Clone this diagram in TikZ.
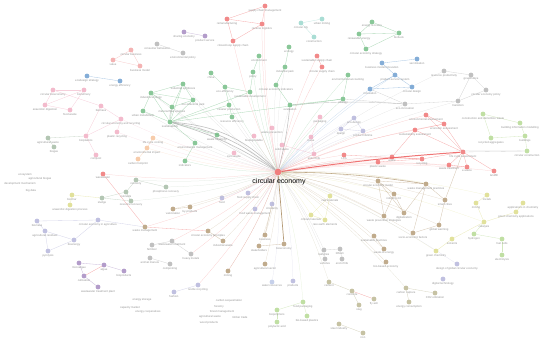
\documentclass[tikz,border=0pt]{standalone}
\usepackage{fontspec}
\setmainfont{Liberation Sans}
\usetikzlibrary{backgrounds}
\definecolor{nred}{RGB}{236,92,92}
\definecolor{ngreen}{RGB}{92,178,112}
\definecolor{nblue}{RGB}{84,142,200}
\definecolor{ngray}{RGB}{168,168,168}
\definecolor{npink}{RGB}{238,160,184}
\definecolor{nsalmon}{RGB}{240,150,150}
\definecolor{npurple}{RGB}{150,118,182}
\definecolor{nlav}{RGB}{168,168,212}
\definecolor{nteal}{RGB}{136,208,196}
\definecolor{norange}{RGB}{244,184,138}
\definecolor{nbrown}{RGB}{168,138,96}
\definecolor{nyellow}{RGB}{214,214,116}
\definecolor{nlgreen}{RGB}{168,210,128}
\definecolor{nkhaki}{RGB}{176,170,128}
\definecolor{ngrgreen}{RGB}{150,176,150}
\definecolor{nlblue}{RGB}{176,190,226}
\tikzset{
  kw/.style={circle,fill=#1,fill opacity=0.72,inner sep=0pt,minimum size=0.24cm},
  lbl/.style={text=black!42,font=\fontsize{4}{4.5}\selectfont,inner sep=0.5pt},
  spoke/.style={draw=#1,opacity=0.3,line width=0.35pt},
  link/.style={draw=#1,opacity=0.5,line width=0.45pt}
}
% keywords: name/x/y/colour/label (pixel coordinates)
\def\kwlist{r1/265/6/nred/supply chain management,r2/227/19/nred/remanufacturing,
r3/262/24/nred/reverse logistics,r4/233/41/nred/closed-loop supply chain,
p1/184/32/npurple/sharing economy,p2/205/36/npurple/product service,
g1/157/44/ngray/consumer behaviour,g2/183/53/ngray/environmental policy,
s1/131/50/nsalmon/circular business,s2/113/60/nsalmon/value,s3/140/66/nsalmon/business model,
b1/87/76/nblue/ecodesign strategy,b2/120/81/nblue/energy efficiency,
k1/53/90/npink/circular bioeconomy,k2/84/90/npink/biorefinery,k3/45/105/npink/anaerobic digestion,k4/70/110/npink/food waste,
e1/151/93/ngreen/industrial ecology,e2/183/84/ngreen/industrial symbiosis,e3/193/100/ngreen/eco-industrial park,
e4/172/107/ngreen/material flow analysis,e5/170/122/ngreen/sustainability,e6/143/111/ngreen/urban metabolism,
e7/211/73/ngreen/china,e8/225/87/ngreen/eco-efficiency,e9/250/92/ngreen/sustainable development,
e10/229/105/ngreen/cleaner production,e11/232/117/ngreen/resource efficiency,e12/259/56/ngreen/environment,e13/253/72/ngreen/policy,
k5/101/106/npink/biomass,k6/121/119/npink/circular economy and recycling,k7/117/132/npink/plastic recycling,k8/86/136/npink/bioplastics,
a1/48/138/ngrgreen/agricultural waste,a2/54/147/ngrgreen/biogas,
o1/153/138/norange/life cycle costing,o2/147/148/norange/environmental impact,o3/138/159/norange/carbon footprint,
k9/96/155/npink/compost,e14/217/135/ngreen/waste hierarchy,e15/195/143/ngreen/environmental management,e16/185/161/ngreen/indicators,
k10/234/153/npink/zero waste,k11/254/136/npink/biodegradable,k12/272/128/npink/waste prevention,
t1/301/23/nteal/circular city,t2/322/19/nteal/urban mining,t3/314/37/nteal/construction,
f1/372/22/ngreen/energy recovery,f2/359/34/ngreen/renewable energy,f3/399/33/ngreen/biofuels,f4/366/49/ngreen/circular economy strategy,
e17/289/47/ngreen/ecology,e18/285/67/ngreen/industrial park,e19/276/85/ngreen/circular economy indicators,
e20/290/105/ngreen/evaluation,e21/348/75/ngreen/environmental accounting,e22/343/99/ngreen/emergy,
r5/317/56/nred/sustainable supply chain,r6/322/67/nred/circular supply chain,
b3/382/63/nblue/business model innovation,b4/417/59/nblue/servitization,b5/395/75/nblue/product-service system,
b6/370/89/nblue/innovation,b7/412/87/nblue/circular design,
g3/444/71/ngray/resource productivity,g4/471/75/ngray/governance,g5/486/90/ngray/circular economy policy,
g6/458/101/ngray/transition,g7/405/104/ngray/eco-innovation,
l1/483/114/nlgreen/construction and demolition waste,l2/520/123/nlgreen/building information modelling,
l3/491/138/nlgreen/recycled aggregates,l4/525/136/nlgreen/buildings,l5/527/151/nlgreen/circular construction,
r7/426/115/nred/environmental assessment,r8/444/124/nred/economic assessment,r9/415/130/nred/sustainability assessment,
rH/463/152/nred/life cycle assessment,r10/392/157/nred/waste,r11/422/159/nred/recycling,r12/378/162/nred/plastic waste,
r13/344/155/nred/LCA,r14/449/165/nred/waste treatment,r15/467/167/nred/e-waste,r16/494/171/nred/landfill,
k13/320/117/npink/packaging,k14/311/137/npink/reuse,k15/282/145/npink/solid waste,k16/314/154/npink/end-of-life,
q1/354/118/nlav/eco-design,q2/341/129/nlav/design,q3/363/131/nlav/product lifetime,
r17/103/174/nred/wastewater,
m1/136/180/ngrgreen/recovery,m2/166/187/ngrgreen/phosphorus recovery,m3/126/192/ngrgreen/nutrients,
m4/102/198/ngrgreen/sludge,m5/131/201/ngrgreen/resource recovery,
y1/72/195/nyellow/biochar,y2/70/205/nyellow/anaerobic digestion process,
v1/37/221/nlav/biomass,v2/45/231/nlav/agricultural residues,v3/74/240/nlav/bioenergy,v4/48/251/nlav/pyrolysis,
v5/98/220/nlav/circular economy in agriculture,
w1/145/227/nbrown/waste management,w2/173/209/nbrown/valorization,w3/190/207/nbrown/by-products,
w4/208/231/nbrown/circular economy principles,w5/223/241/nbrown/industrial waste,w6/228/271/nbrown/mining,
w7/259/246/nbrown/stakeholders,w8/265/235/nbrown/business,w9/265/264/nbrown/agricultural sector,
c1/152/245/ngray/fertilizer,c2/172/241/ngray/wastewater treatment,c3/150/258/ngray/animal manure,
c4/170/264/ngray/composting,c5/191/254/ngray/heavy metals,c6/222/198/nlav/food,c7/248/193/nlav/food supply chain,
c8/255/209/nlav/food waste management,c9/272/204/nlav/circularity,
u1/79/263/npurple/microalgae,u2/104/265/npurple/algae,u3/124/271/npurple/bioproducts,u4/84/276/npurple/cultivation,
u5/98/287/npurple/wastewater treatment plant,v6/198/285/nlav/textile recycling,v7/174/292/nlav/fashion,
x1/272/282/nlblue/water resources,
w10/378/181/nbrown/circular economy model,w11/426/184/nbrown/waste management practices,w12/394/194/nbrown/industry 4.0,
w13/384/216/nbrown/waste prevention strategies,w14/404/213/nbrown/digitalization,w15/445/200/nbrown/smart cities,
w16/439/225/nbrown/global warming,w17/413/233/nbrown/socio-economic factors,w18/374/236/nbrown/sustainable practices,
w19/384/249/nbrown/waste-to-energy,w20/386/262/nbrown/bio-based economy,wB/284/244/nbrown/bioeconomy,
y3/330/196/nyellow/raw materials,y4/311/215/nyellow/critical materials,y5/325/220/nyellow/rare earth elements,
y6/487/195/nyellow/metals,y7/476/203/nyellow/mining,y8/523/203/nyellow/applications in chemistry,
y9/516/212/nyellow/green chemistry applications,y10/484/222/nyellow/catalysis,y11/452/239/nyellow/solvents,y12/436/251/nyellow/green chemistry,
l6/474/234/nlgreen/hydrogen,l7/502/239/nlgreen/fuel cells,l8/502/255/nlgreen/electrolysis,
c10/324/250/ngray/batteries,c11/340/249/ngray/lithium,c12/325/259/ngray/vehicles,c13/342/259/ngray/end of life,
v8/457/264/nlav/design of global circular economy,v9/443/279/nlav/digital technology,v10/293/281/nlav/products,
h1/329/282/nkhaki/cement,h2/352/291/nkhaki/concrete,h3/374/299/nkhaki/fly ash,h4/359/305/nkhaki/slag,
h5/406/288/nkhaki/carbon capture,h6/435/293/nkhaki/CO2 utilization,h7/409/302/nkhaki/energy consumption,
h8/339/324/nkhaki/steel industry,h9/363/333/nkhaki/iron,
l9/303/302/nlgreen/food packaging,l10/307/316/nlgreen/bio-based plastics,l11/277/310/nlgreen/biopolymers,l12/277/322/nlgreen/polylactic acid}
\begin{document}
\begin{tikzpicture}[x=0.05cm,y=-0.05cm]
\useasboundingbox (0,0) rectangle (550,343);
\foreach \n/\x/\y/\c/\t in \kwlist{
\node [kw=\c,label={[lbl]below:\t}] (\n) at (\x,\y) {};
}
\node [circle,fill=nred,fill opacity=0.8,inner sep=0pt,minimum size=0.34cm] (ce) at (278,172) {};
\node [font=\fontsize{10}{11}\selectfont,inner sep=0pt] (celbl) at (279,182) {circular economy};
% keywords without a dot
\foreach \n/\x/\y/\t in {n1/25/175/ecosystem,n2/40/179/agricultural biogas,n3/20/184/development mechanism,
n4/31/191/big data,n5/142/300/energy storage,n6/130/308/capacity market,n7/148/312/energy cooperatives,
n8/229/301/carbon sequestration,n9/219/307/forestry,n10/222/312/forest management,n11/210/317/agricultural waste,
n12/240/317/timber trade,n13/209/323/wood products}{
\node [lbl] (\n) at (\x,\y) {\t};
}
\begin{pgfonlayer}{background}
% spokes from the centre
\foreach \n/\c in {r1/nred,r3/nred,r4/nred,r5/nred,r6/nred,e2/ngray,e3/ngray,e4/ngray,e1/ngray,e6/ngray,
e8/ngreen,e9/ngreen,e10/ngray,e11/ngray,e12/ngreen,e13/ngreen,e14/ngray,e15/ngray,e16/ngreen,e18/ngray,e19/ngray,e20/ngray,
k6/npink,k7/npink,k10/npink,k11/npink,k12/npink,k13/npink,k14/npink,k15/npink,k16/npink,o1/norange,o2/norange,
q1/nlav,q2/nlav,q3/nlav,g7/ngray,g6/ngray,b6/nblue,r7/nred,r8/nred,r9/nred,r10/nred,r11/nred,r12/nred,r13/nred,
r14/nred,r15/nred,r16/nred,l5/ngray,r17/nred,m1/ngrgreen,m2/ngrgreen,m5/ngrgreen,w1/nred,w2/nbrown,w3/nbrown,
w4/nbrown,w5/nbrown,w6/nbrown,w7/nbrown,w8/nbrown,w9/nbrown,c2/nred,c5/nred,c6/nlav,c7/nlav,c8/nlav,c9/nlav,
w10/nbrown,w11/nbrown,w12/nbrown,w13/nbrown,w14/nbrown,w15/nbrown,w16/nbrown,w17/nbrown,w18/nbrown,w19/nbrown,w20/nbrown,
y3/nyellow,y4/nyellow,y5/nyellow,y6/nyellow,y10/nyellow,y12/nyellow,c10/ngray,c12/ngray,h1/nkhaki,h5/nkhaki,
v10/nlav,x1/nlav,v6/nred,w6/nred,l9/nlgreen,v8/nlav,e21/ngreen,e22/ngreen,b5/nblue,g3/ngray}{
\draw [spoke=\c] (ce) to [bend left=6] (\n);
}
% links inside the clusters
\foreach \a/\b/\c in {r1/r2/nred,r1/r3/nred,r2/r3/nred,r2/r4/nred,r3/r4/nred,p1/p2/npurple,g1/g2/ngray,
s1/s2/nsalmon,s1/s3/nsalmon,s2/s3/nsalmon,b1/b2/nblue,k1/k2/npink,k1/k3/npink,k2/k4/npink,k3/k4/npink,k2/k3/npink,
e1/e2/ngreen,e1/e3/ngreen,e1/e4/ngreen,e1/e5/ngreen,e2/e3/ngreen,e2/e4/ngreen,e2/e5/ngreen,e3/e4/ngreen,e3/e5/ngreen,
e4/e5/ngreen,e6/e5/ngreen,e6/e1/ngreen,e5/e10/ngreen,e5/e9/ngreen,e5/e22/ngreen,e5/e15/ngreen,e15/e16/ngreen,e5/e14/ngreen,
e7/e8/ngreen,e8/e9/ngreen,e8/e10/ngreen,e10/e11/ngreen,e12/e13/ngreen,e9/e13/ngreen,
k5/k6/npink,k6/k7/npink,k5/k8/npink,k6/k8/npink,k8/k9/npink,k5/k1/npink,a1/a2/ngrgreen,a1/k8/ngrgreen,
o1/o2/norange,o2/o3/norange,t1/t2/nteal,t1/t3/nteal,f1/f2/ngreen,f1/f3/ngreen,f2/f4/ngreen,f3/f4/ngreen,f2/f3/ngreen,
e17/e18/ngreen,e18/e19/ngreen,e19/e20/ngreen,e20/e22/ngreen,e21/e22/ngreen,r5/r6/nred,
b3/b4/nblue,b3/b5/nblue,b5/b6/nblue,b5/b7/nblue,b6/b7/nblue,g3/g4/ngray,g4/g5/ngray,g5/g6/ngray,g6/g7/ngray,
g4/g6/ngray,g7/b6/ngray,g7/e22/ngray,l1/l2/nlgreen,l1/l3/nlgreen,l2/l4/nlgreen,l3/l4/nlgreen,l4/l5/nlgreen,
rH/r7/nred,rH/r8/nred,rH/r9/nred,r7/r8/nred,r8/r9/nred,r9/r10/nred,r10/r11/nred,r11/rH/nred,r12/r11/nred,
r13/r11/nred,rH/r14/nred,rH/r15/nred,r14/r15/nred,rH/r16/nred,rH/l5/ngray,q1/q2/nlav,q1/q3/nlav,q2/q3/nlav,
k13/k14/npink,k14/k16/npink,k15/k16/npink,m1/m3/ngrgreen,m3/m4/ngrgreen,m4/m5/ngrgreen,m1/m2/ngrgreen,
m3/m5/ngrgreen,y1/y2/nyellow,y1/m4/nyellow,v1/v2/nlav,v2/v3/nlav,v2/v4/nlav,v3/v4/nlav,v1/v5/nlav,v5/v3/nlav,
v5/w1/nlav,w1/w4/nred,w2/w3/nbrown,w4/w5/nbrown,w1/r17/nred,u1/u2/npurple,u2/u3/npurple,u1/u4/npurple,
u4/u5/npurple,u2/u4/nred,v6/v7/nlav,c1/c2/ngray,c3/c4/ngray,c2/c5/ngray,
w10/w11/nbrown,w10/w12/nbrown,w12/w13/nbrown,w12/w14/nbrown,w11/w14/nbrown,w11/w15/nbrown,w15/w16/nbrown,
w16/w17/nbrown,w13/w10/nbrown,w18/w19/nbrown,w10/w14/nbrown,w11/w17/nbrown,
y3/y4/nyellow,y3/y5/nyellow,y4/y5/nyellow,y6/y7/nyellow,y7/y10/nyellow,y8/y9/nyellow,y9/y10/nyellow,
y10/y11/nyellow,y11/y12/nyellow,y10/l6/nlgreen,l6/l7/nlgreen,l7/l8/nlgreen,h1/h2/nkhaki,h2/h3/nred,
h2/h4/nkhaki,h5/h6/nkhaki,h5/h7/nkhaki,h8/h9/nkhaki,l9/l10/nlgreen,l11/l9/nlgreen,l11/l12/nlgreen,
c10/c11/ngray,c10/c12/ngray,c11/c13/ngray,wB/w7/nbrown,w15/rH/nbrown,c9/w8/nbrown}{
\draw [link=\c] (\a) -- (\b);
}
% strongest links
\draw [draw=nred,opacity=0.85,line width=1.4pt] (ce) to [bend left=2] (rH);
\draw [draw=nbrown,opacity=0.85,line width=1pt] (ce) -- (wB);
\draw [draw=nbrown,opacity=0.7,line width=0.8pt] (ce) to [bend left=4] (w11);
\foreach \b in {8,14,20}{
\draw [draw=ngray,opacity=0.7,line width=0.9pt] (ce) to [bend right=\b] (e5);
}
\draw [draw=ngray,opacity=0.6,line width=0.7pt] (e5) to [bend left=10] (e4);
\draw [draw=ngray,opacity=0.7,line width=0.8pt] (ce) to [bend right=4] (e20);
\draw [draw=ngray,opacity=0.6,line width=0.6pt] (e20) to [bend left=4] (g7);
\end{pgfonlayer}
\end{tikzpicture}
\end{document}
